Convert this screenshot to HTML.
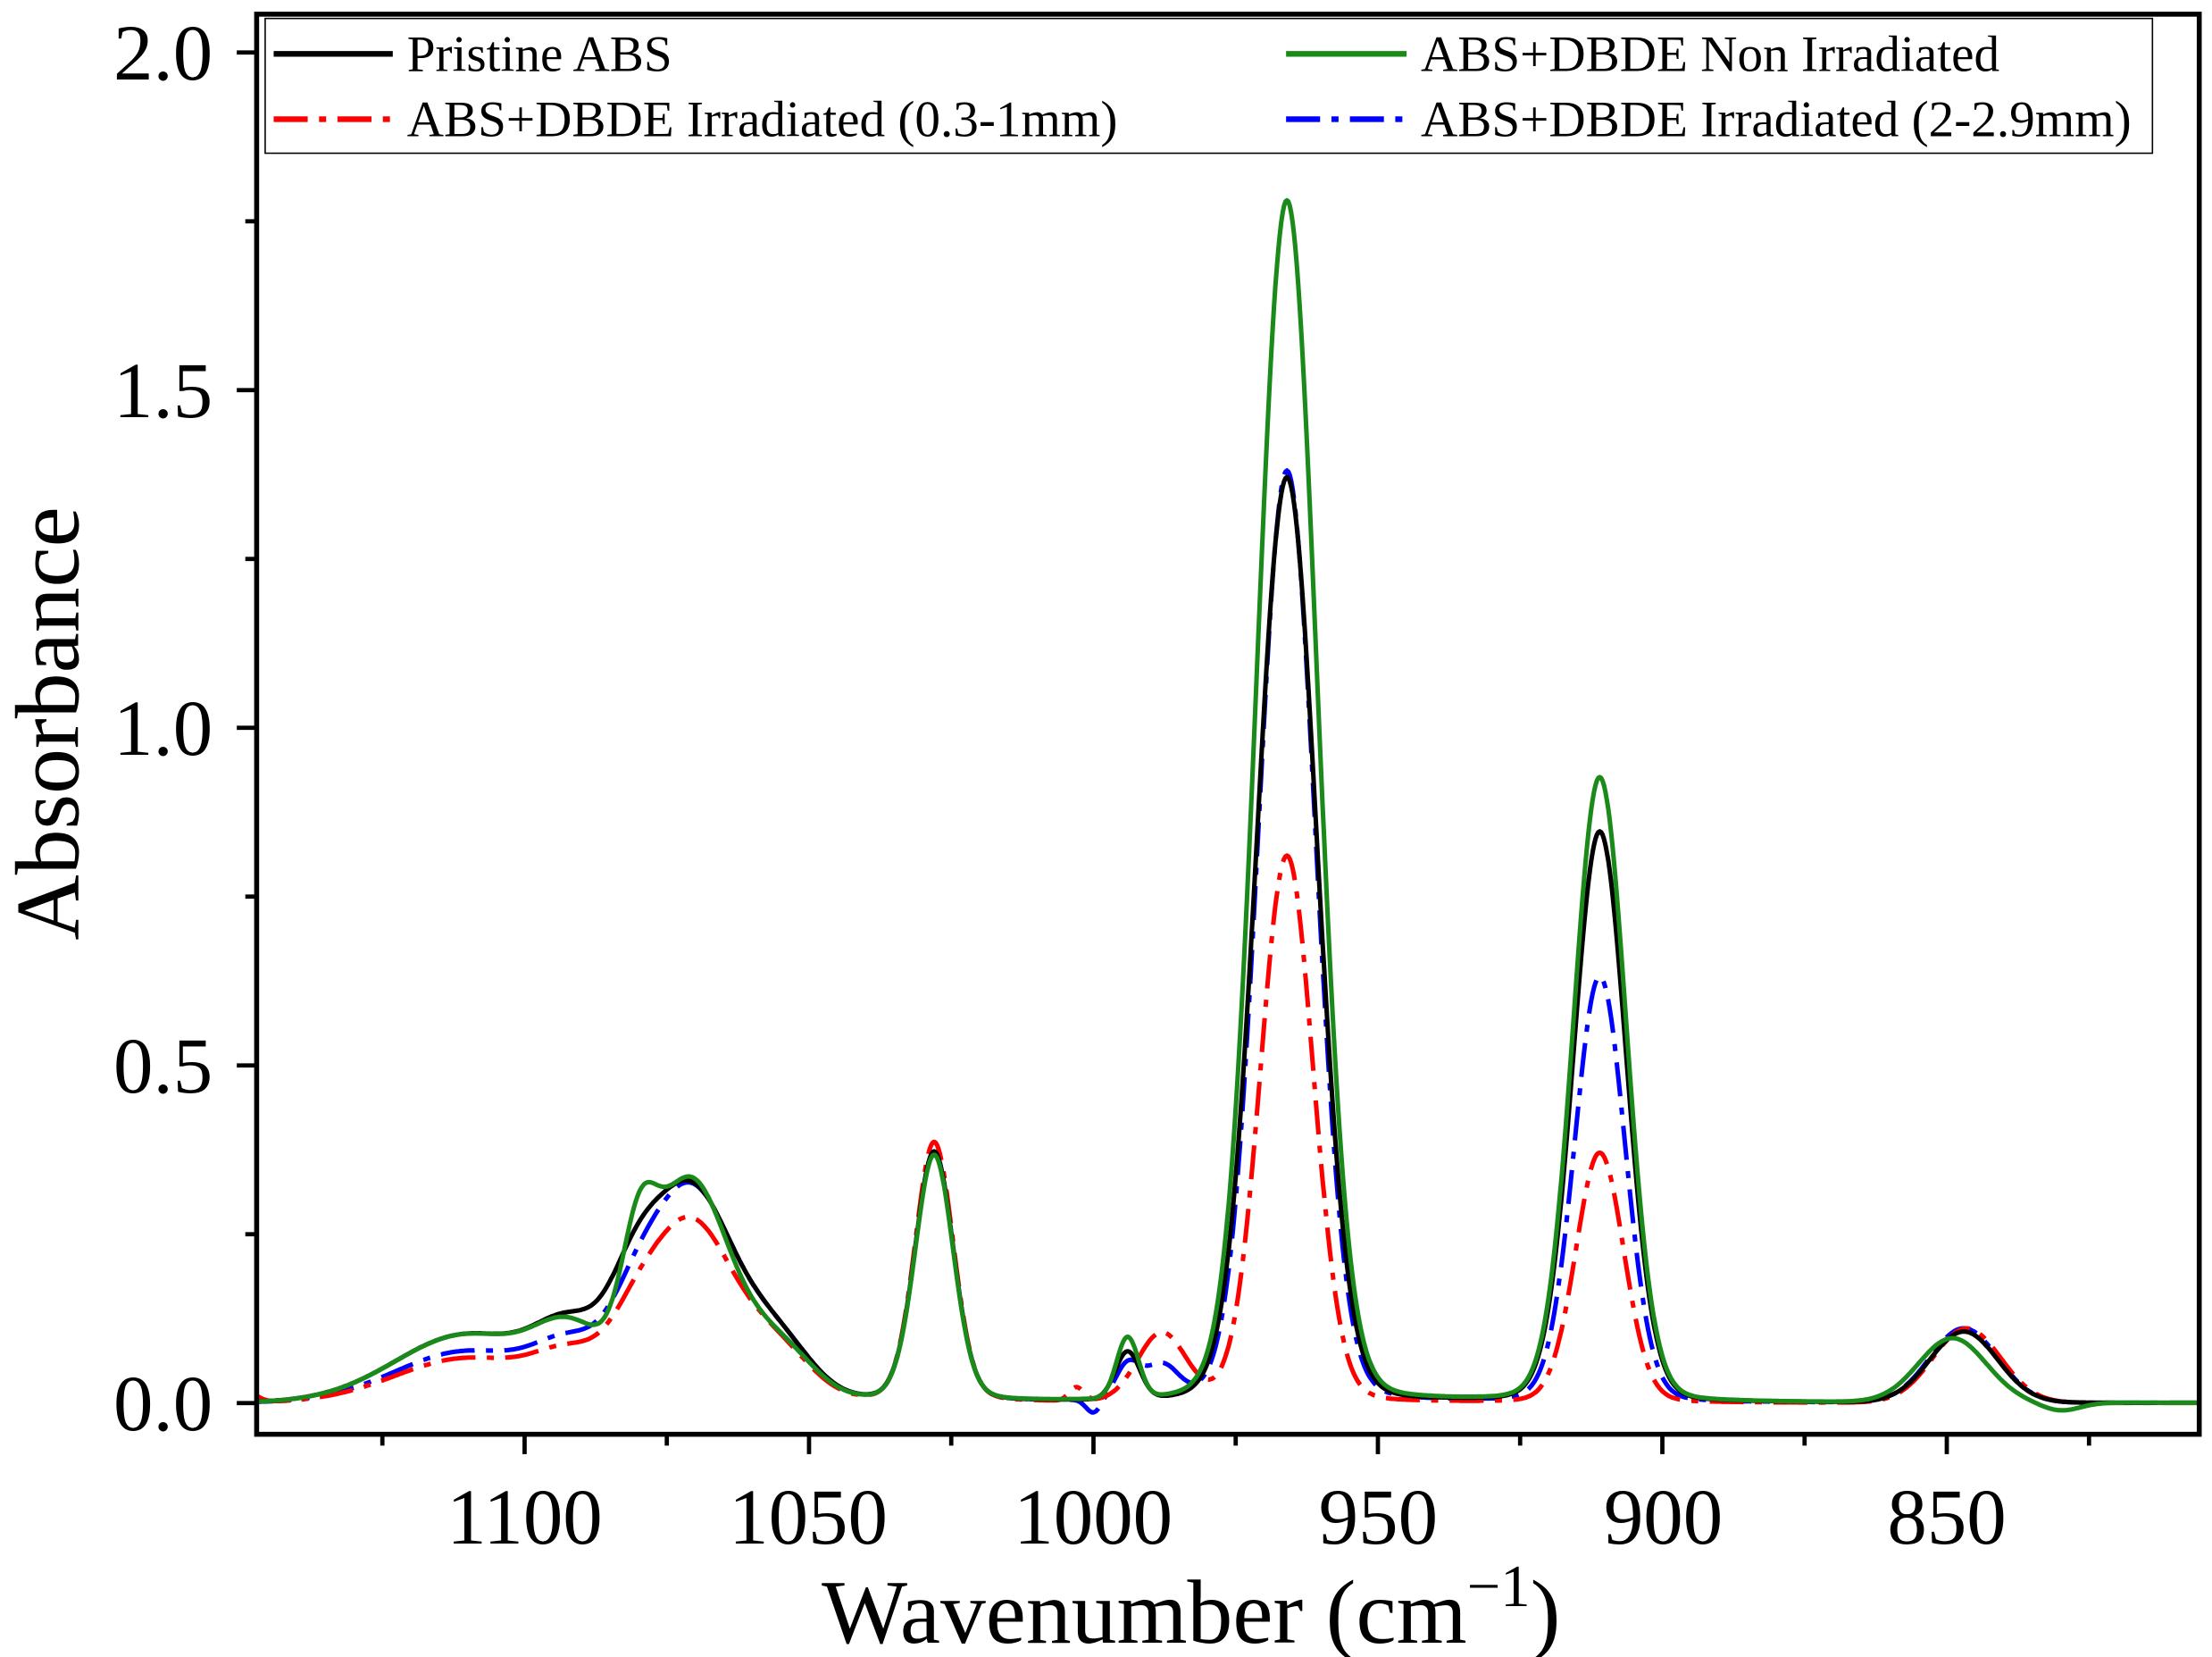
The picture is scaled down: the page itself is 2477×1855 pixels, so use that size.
<!DOCTYPE html>
<html><head><meta charset="utf-8"><style>
html,body{margin:0;padding:0;background:#fff;}
svg{display:block;}
text{font-family:"Liberation Serif",serif;fill:#000;}
</style></head><body>
<svg id="s" width="2477" height="1855" viewBox="0 0 1560 1168" preserveAspectRatio="none" xmlns="http://www.w3.org/2000/svg">
<g id="ticks" stroke="#000" stroke-width="3"></g>
<g id="curves" fill="none" stroke-width="3.2" stroke-linejoin="round"></g>
<rect x="181" y="10" width="1370" height="1001" fill="none" stroke="#000" stroke-width="3.5"/>
<rect x="187" y="13" width="1331" height="95" fill="#fff" stroke="#000" stroke-width="1"/>
<line x1="193" y1="38" x2="277" y2="38" stroke="#000" stroke-width="4"/>
<text x="287" y="50" font-size="36">Pristine ABS</text>
<line x1="907" y1="38" x2="992" y2="38" stroke="#1a8a1a" stroke-width="4"/>
<text x="1002" y="50" font-size="36">ABS+DBDE Non Irradiated</text>
<line x1="193" y1="84" x2="277" y2="84" stroke="#ff0000" stroke-width="4" stroke-dasharray="24 8 5 8"/>
<text x="287" y="96" font-size="36">ABS+DBDE Irradiated (0.3-1mm)</text>
<line x1="907" y1="84" x2="992" y2="84" stroke="#0000ff" stroke-width="4" stroke-dasharray="24 8 5 8"/>
<text x="1002" y="96" font-size="36">ABS+DBDE Irradiated (2-2.9mm)</text>
<g font-size="56" text-anchor="end">
<text x="150" y="1008">0.0</text><text x="150" y="770">0.5</text><text x="150" y="532">1.0</text><text x="150" y="294">1.5</text><text x="150" y="56">2.0</text>
</g>
<g font-size="56" text-anchor="middle">
<text x="370" y="1088">1100</text><text x="570" y="1088">1050</text><text x="771" y="1088">1000</text><text x="972" y="1088">950</text><text x="1173" y="1088">900</text><text x="1373" y="1088">850</text>
</g>
<text transform="translate(55,510) rotate(-90)" font-size="64" text-anchor="middle">Absorbance</text>
<text x="840" y="1158" font-size="64" text-anchor="middle">Wavenumber (cm<tspan font-size="42" dy="-26">−1</tspan><tspan dy="26">)</tspan></text>
</svg>
<script>
var NS="http://www.w3.org/2000/svg";
function X(w){return 181+(1147.1-w)*4.012;}
function Y(a){return 989-a*476;}
var tk=document.getElementById('ticks');
function ln(x1,y1,x2,y2){var l=document.createElementNS(NS,'line');l.setAttribute('x1',x1);l.setAttribute('y1',y1);l.setAttribute('x2',x2);l.setAttribute('y2',y2);tk.appendChild(l);}
for(var w=825;w<=1125;w+=25){var big=(w%50===0);ln(X(w),1011,X(w),1011+(big?14:8));}
for(var a=0;a<=2.0001;a+=0.25){var big=(Math.abs(a*2-Math.round(a*2))<1e-6);ln(181,Y(a),181-(big?14:8),Y(a));}
function pv(x,c,f,h,e){var d=(x-c)/f*2;return h*((1-e)*Math.exp(-Math.LN2*d*d)+e/(1+d*d));}
var S=[
 {col:"#0000ff",dash:"24 8 5 8",p:[[1110,30,0.075,0],[1092,14,0.06,0],[1081,10,0.05,0],[1071,19,0.32,0.1],[1055,14,0.07,0],[1028,8,0.37,0.15],[994,5,0.05,0],[988,7,0.05,0],[1000,3,-0.02,0],[966,12,1.38,0.08],[911,10.5,0.63,0.08],[847,14,0.11,0]]},
 {col:"#ff0000",dash:"24 8 5 8",p:[[1150,5,0.025,0],[1110,30,0.065,0],[1092,14,0.05,0],[1081,10,0.04,0],[1071,19,0.27,0.1],[1055,14,0.06,0],[1028,8,0.385,0.15],[1003,3,0.02,0],[988,10,0.1,0],[966,11,0.81,0.08],[911,10,0.37,0.08],[846.5,14,0.11,0]]},
 {col:"#000000",dash:"",p:[[1110,30,0.1,0],[1092,14,0.08,0],[1081,10,0.08,0],[1071,19,0.32,0.1],[1055,14,0.07,0],[1028,8,0.37,0.15],[994,5,0.07,0],[966,12.5,1.37,0.08],[911,11,0.845,0.08],[847,14,0.105,0]]},
 {col:"#1a8a1a",dash:"",p:[[1110,30,0.1,0],[1092,14,0.08,0],[1080,7,0.14,0],[1071,17,0.33,0.1],[1055,14,0.07,0],[1028,8,0.365,0.15],[994,4.5,0.09,0],[966,12.5,1.78,0.08],[911,11,0.925,0.08],[849,14,0.095,0],[830,8,-0.012,0]]}
];
var cg=document.getElementById('curves');
S.forEach(function(s){var d="";for(var w=1147;w>=805.6;w-=0.25){var a=0;s.p.forEach(function(q){a+=pv(w,q[0],q[1],q[2],q[3]);});d+=(d?"L":"M")+X(w).toFixed(1)+","+Y(a).toFixed(1);}
var p=document.createElementNS(NS,'path');p.setAttribute('d',d);p.setAttribute('stroke',s.col);if(s.dash)p.setAttribute('stroke-dasharray',s.dash);cg.appendChild(p);});
</script>
</body></html>
